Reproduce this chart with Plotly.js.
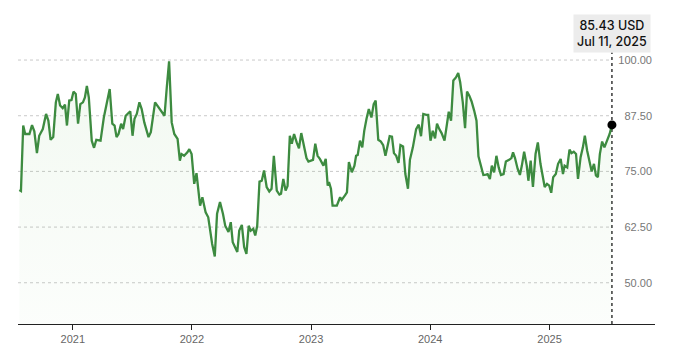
<!DOCTYPE html>
<html><head><meta charset="utf-8">
<script src="https://cdn.plot.ly/plotly-3.0.1.min.js"></script>
<style>html,body{margin:0;padding:0;background:#fff}#chart{width:680px;height:352px}</style>
</head><body><div id="chart"></div>
<script>
const dates2020 = ["2020-07-21","2020-07-26","2020-08-02","2020-08-08","2020-08-21","2020-08-29","2020-09-05","2020-09-13","2020-09-20","2020-10-01","2020-10-11","2020-10-18","2020-10-25","2020-11-02","2020-11-10","2020-11-16","2020-11-23","2020-12-01","2020-12-08","2020-12-14","2020-12-21","2020-12-28"];
const prices2020 = [70.8,70.6,85.3,83.4,83.4,85.4,84.0,79.1,83.0,84.5,87.9,86.4,82.1,82.7,90.5,92.4,89.8,89.2,90.0,85.3,90.9,91.0];

const dates2021 = ["2021-01-03","2021-01-10","2021-01-17","2021-01-24","2021-02-01","2021-02-07","2021-02-13","2021-02-19","2021-02-28","2021-03-07","2021-03-14","2021-03-27","2021-04-06","2021-04-13","2021-04-24","2021-05-02","2021-05-09","2021-05-15","2021-05-21","2021-05-29","2021-06-04","2021-06-12","2021-06-26","2021-07-03","2021-07-09","2021-07-16","2021-07-24","2021-07-31","2021-08-08","2021-08-21","2021-08-28","2021-09-10","2021-09-25","2021-10-09","2021-10-16","2021-10-23","2021-10-31","2021-11-08","2021-11-18","2021-11-25","2021-11-30","2021-12-08","2021-12-18","2021-12-24","2021-12-31"];
const prices2021 = [92.9,92.4,85.7,90.1,90.5,91.6,94.2,91.6,81.9,80.3,82.1,81.9,87.1,89.4,93.5,85.7,85.3,82.7,83.4,85.7,84.5,87.5,88.5,83.0,86.8,87.9,90.5,89.0,86.0,82.7,83.8,90.5,89.0,87.5,93.9,99.7,86.0,83.4,82.3,77.4,78.9,78.5,79.3,80.0,78.9];

const dates2022 = ["2022-01-08","2022-01-15","2022-01-26","2022-02-02","2022-02-12","2022-02-20","2022-03-04","2022-03-12","2022-03-19","2022-03-28","2022-04-06","2022-04-13","2022-04-23","2022-04-30","2022-05-06","2022-05-20","2022-05-26","2022-06-03","2022-06-10","2022-06-17","2022-06-24","2022-06-30","2022-07-08","2022-07-14","2022-07-20","2022-07-27","2022-08-03","2022-08-10","2022-08-18","2022-08-26","2022-09-02","2022-09-09","2022-09-18","2022-09-26","2022-10-01","2022-10-08","2022-10-15","2022-10-21","2022-10-28","2022-11-03","2022-11-10","2022-11-18","2022-11-25","2022-12-02","2022-12-10","2022-12-18","2022-12-24"];
const prices2022 = [72.2,74.6,67.3,69.2,65.8,64.7,58.7,55.9,65.5,68.1,65.5,62.8,61.4,63.6,59.1,56.9,61.7,63.0,58.0,56.5,62.8,61.7,62.1,60.6,62.8,72.7,72.9,75.2,71.5,70.5,71.1,78.5,70.7,69.8,70.0,73.3,70.7,71.7,83.0,81.2,83.4,81.5,80.2,83.6,80.8,78.0,77.2];

const dates2023 = ["2023-01-03","2023-01-07","2023-01-14","2023-01-21","2023-01-28","2023-02-05","2023-02-08","2023-02-15","2023-02-21","2023-02-25","2023-03-03","2023-03-08","2023-03-21","2023-03-31","2023-04-05","2023-04-15","2023-04-21","2023-04-27","2023-05-06","2023-05-14","2023-05-19","2023-05-24","2023-05-31","2023-06-07","2023-06-13","2023-06-20","2023-06-27","2023-07-05","2023-07-12","2023-07-18","2023-07-26","2023-08-03","2023-08-10","2023-08-17","2023-08-23","2023-08-30","2023-09-06","2023-09-12","2023-09-19","2023-09-26","2023-10-02","2023-10-10","2023-10-17","2023-10-25","2023-10-31","2023-11-09","2023-11-19","2023-11-27","2023-12-04","2023-12-11","2023-12-20","2023-12-26"];
const prices2023 = [77.4,77.6,81.2,78.5,77.8,76.7,76.3,77.8,71.8,72.6,71.1,67.3,67.3,69.2,68.6,69.6,70.3,77.1,74.8,76.3,78.5,78.7,81.9,80.4,84.1,86.8,89.0,87.1,90.1,90.9,82.1,81.7,80.9,78.5,80.4,82.9,82.8,79.1,78.5,76.9,80.9,80.6,74.4,71.1,77.6,80.4,84.5,85.5,82.9,87.9,87.7,87.7];

const dates2024 = ["2024-01-02","2024-01-09","2024-01-16","2024-01-22","2024-01-29","2024-02-05","2024-02-14","2024-02-21","2024-02-27","2024-03-05","2024-03-12","2024-03-20","2024-03-27","2024-04-02","2024-04-10","2024-04-17","2024-04-23","2024-04-30","2024-05-07","2024-05-15","2024-05-22","2024-05-28","2024-06-05","2024-06-12","2024-06-20","2024-06-25","2024-07-02","2024-07-08","2024-07-15","2024-07-22","2024-07-29","2024-08-05","2024-08-13","2024-08-20","2024-08-30","2024-09-06","2024-09-11","2024-09-17","2024-09-25","2024-10-02","2024-10-08","2024-10-15","2024-10-23","2024-10-28","2024-11-04","2024-11-11","2024-11-19","2024-11-26","2024-12-04","2024-12-11","2024-12-17","2024-12-24","2024-12-31"];
const prices2024 = [81.9,84.1,82.4,85.7,84.5,83.6,81.9,85.3,88.4,86.4,95.4,96.1,97.1,95.0,90.5,84.7,92.9,92.0,90.7,88.6,86.4,78.4,76.3,74.2,74.3,74.4,73.3,76.3,74.8,78.5,75.9,74.2,74.4,77.2,77.6,78.0,79.3,78.0,75.6,74.2,76.3,79.4,76.3,72.9,77.4,71.5,78.9,81.5,76.7,73.3,71.5,72.2,71.8];

const dates2025 = ["2025-01-06","2025-01-12","2025-01-20","2025-01-27","2025-02-04","2025-02-11","2025-02-16","2025-02-24","2025-03-03","2025-03-09","2025-03-16","2025-03-23","2025-03-29","2025-04-06","2025-04-13","2025-04-19","2025-04-26","2025-05-04","2025-05-10","2025-05-17","2025-05-23","2025-05-29","2025-06-04","2025-06-11","2025-06-18","2025-06-26","2025-07-04","2025-07-11"];
const prices2025 = [70.2,73.7,74.4,76.7,77.8,74.4,76.3,75.9,79.9,79.1,79.4,78.9,73.3,78.2,80.4,83.0,79.7,76.7,75.0,76.7,74.1,73.7,78.9,81.7,80.4,81.9,83.4,85.43];

const yTickVals = [50, 62.5, 75, 87.5, 100];
const yTickText = ["50.00", "62.50", "75.00", "87.50", "100.00"];
const currency = "USD";
const lastDateLabel = "Jul 11, 2025";

const dates = [].concat(dates2020, dates2021, dates2022, dates2023, dates2024, dates2025);
const prices = [].concat(prices2020, prices2021, prices2022, prices2023, prices2024, prices2025);

const xRange = ["2020-07-17", "2025-11-20"];
const yRange = [40.74, 108.99];
const lineColor = "rgb(61,139,64)";
const fontFamily = "Liberation Sans, Arial, sans-serif";

const n = dates.length;
const lastDate = dates[n - 1];
const lastPrice = prices[n - 1];

const traces = [
  {
    x: dates, y: prices, type: "scatter", mode: "lines",
    line: {color: lineColor, width: 2.3},
    fill: "tozeroy",
    fillgradient: {type: "vertical", start: yRange[0], stop: 100,
      colorscale: [[0, "rgba(90,180,80,0.02)"], [1, "rgba(90,180,80,0.08)"]]},
    hoverinfo: "skip"
  },
  {
    x: [lastDate], y: [lastPrice], type: "scatter", mode: "markers",
    marker: {color: "#000", size: 9}, hoverinfo: "skip"
  }
];

const shapes = yTickVals.map(v => ({
  type: "line", xref: "x", yref: "y", x0: xRange[0], x1: lastDate, y0: v, y1: v,
  line: {color: "#c9c9c9", width: 1, dash: "dot"}, layer: "below"
}));
shapes.push({
  type: "line", xref: "x", yref: "paper", x0: lastDate, x1: lastDate, y0: 0, y1: 0.893,
  line: {color: "#444", width: 1.6, dash: "dot"}, layer: "below"
});

const layout = {
  width: 680, height: 352,
  margin: {l: 18, r: 25, t: 20, b: 28},
  paper_bgcolor: "#fff", plot_bgcolor: "#fff",
  showlegend: false,
  font: {family: fontFamily},
  xaxis: {
    type: "date", range: xRange, showgrid: false, zeroline: false,
    showline: true, linecolor: "#222", linewidth: 1.2,
    ticks: "outside", ticklen: 5, tickcolor: "#222", tickwidth: 1,
    dtick: "M12", tick0: "2021-01-01", tickformat: "%Y",
    tickfont: {size: 11, color: "#666", family: fontFamily},
    fixedrange: true
  },
  yaxis: {
    side: "right", range: yRange, tickvals: yTickVals, ticktext: yTickText,
    ticklabelposition: "inside", showgrid: false, zeroline: false, showline: false,
    ticks: "", tickfont: {size: 11, color: "#777", family: fontFamily},
    fixedrange: true
  },
  shapes: shapes,
  annotations: [{
    xref: "x", yref: "paper", x: lastDate, y: 0.893, xanchor: "center", yanchor: "bottom",
    showarrow: false, align: "center",
    text: lastPrice.toFixed(2) + " " + currency + "<br>" + lastDateLabel,
    font: {size: 12.5, color: "#111", family: "Inter, Liberation Sans, sans-serif", weight: 500},
    bgcolor: "#ececec", borderpad: 3
  }]
};

Plotly.newPlot("chart", traces, layout, {displayModeBar: false, staticPlot: true});
</script>
</body></html>
